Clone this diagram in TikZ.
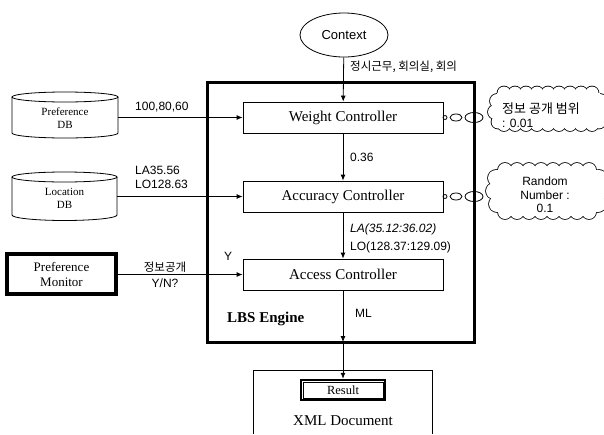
\documentclass[tikz,border=0pt]{standalone}
\usepackage{fontspec}
\setmainfont{Liberation Serif}
\setsansfont{Liberation Sans}
\newfontfamily\kr{Noto Sans CJK KR}
\usetikzlibrary{shapes.geometric,arrows.meta}
\begin{document}
\begin{tikzpicture}[x=1pt,y=-1pt,
  ctrl/.style={draw, line width=0.8pt, minimum width=200pt, minimum height=31pt, font=\fontsize{15}{15}\selectfont, inner sep=0pt},
  lbl/.style={font=\sffamily\fontsize{12}{14}\selectfont, inner sep=0pt},
  klbl/.style={font=\kr\fontsize{11.5}{14}\selectfont, inner sep=0pt},
  arr/.style={line width=0.8pt, -{Latex[length=6pt,width=5pt]}},
  plain/.style={line width=0.8pt},
  puffline/.style={line width=1.6pt},
  dbtext/.style={font=\fontsize{11}{13}\selectfont, align=center, inner sep=0pt},
  smallring/.style={draw, line width=0.8pt, ellipse, inner sep=0pt}
]
\useasboundingbox (0,0) rectangle (604,434);

% LBS engine box
\draw[line width=3pt] (207,82) rectangle (474,342);
\node[font=\bfseries\fontsize{15}{15}\selectfont, anchor=west, inner sep=0pt] (lbs) at (227,319) {LBS Engine};

% context
\node[draw, line width=0.8pt, ellipse, minimum width=88pt, minimum height=44pt, inner sep=0pt, font=\sffamily\fontsize{13}{13}\selectfont] (ctx) at (344,35) {Context};

% controllers
\node[ctrl] (wc) at (343,117.5) {Weight Controller};
\node[ctrl] (ac) at (343,196.5) {Accuracy Controller};
\node[ctrl] (xc) at (343,274.5) {Access Controller};

% vertical flow
\draw[arr] (ctx) -- (wc);
\node[klbl, anchor=west] (ctxl) at (350,67) {정시근무, 회의실, 회의};
\draw[arr] (wc) -- (ac);
\node[lbl, anchor=west] (l036) at (350,157) {0.36};
\draw[arr] (ac) -- (xc);
\node[lbl, anchor=west] (lla) at (350,229) {\itshape LA(35.12:36.02)};
\node[lbl, anchor=west] (llo) at (350,247) {LO(128.37:129.09)};
\coordinate (lbsb) at (343,342);
\draw[arr] (xc) -- (lbsb);
\node[lbl, anchor=west] (ml) at (355,313) {ML};

% XML document
\draw[plain] (253,434) -- (253,370) -- (432,370) -- (432,434);
\node[draw, line width=2.5pt, minimum width=84pt, minimum height=20pt, inner sep=0pt, font=\fontsize{12.5}{13}\selectfont] (res) at (343,390) {Result};
\draw[line width=0.6pt] ([shift={(3.2,3.2)}]res.north west) rectangle ([shift={(-3.2,-3.2)}]res.south east);
\node[font=\fontsize{15}{15}\selectfont, inner sep=0pt] (xml) at (343,421) {XML Document};
\draw[arr] (lbsb) -- (res);

% Preference DB cylinder
\node[dbtext, minimum width=106pt, minimum height=40pt] (pdb) at (65,118) {Preference\\DB};
\draw[plain] (12,97) -- (12,133) arc[start angle=180,end angle=0,x radius=53,y radius=5] -- (118,97);
\draw[plain] (65,97) ellipse [x radius=53,y radius=5];
\draw[arr] (pdb.east |- wc.west) -- (wc.west);
\node[lbl, anchor=west] (pl) at (135,107) {100,80,60};

% Location DB cylinder
\node[dbtext, minimum width=105pt, minimum height=40pt] (ldb) at (64.5,198) {Location\\DB};
\draw[plain] (12,177) -- (12,215) arc[start angle=180,end angle=0,x radius=52.5,y radius=5.5] -- (117,177);
\draw[plain] (64.5,177) ellipse [x radius=52.5,y radius=5];
\draw[arr] (ldb.east |- ac.west) -- (ac.west);
\node[lbl, anchor=west] (la) at (135,170) {LA35.56};
\node[lbl, anchor=west] (lo) at (135,184) {LO128.63};

% Preference monitor
\node[draw, line width=2.6pt, minimum width=110pt, minimum height=41pt, inner sep=0pt, align=center, font=\fontsize{13}{15}\selectfont] (pm) at (61.5,274) {Preference\\Monitor};
\draw[line width=0.6pt] ([shift={(3.4,3.4)}]pm.north west) rectangle ([shift={(-3.4,-3.4)}]pm.south east);
\draw[arr] (pm.east |- xc.west) -- (xc.west);
\node[klbl] (pml) at (165,267) {정보공개};
\node[lbl] (yn) at (165,283) {Y/N?};
\node[lbl] (yy) at (228,256) {Y};

% small rings
\node[smallring, minimum width=4pt, minimum height=4pt] (r1a) at (445,117.5) {};
\node[smallring, minimum width=12pt, minimum height=7pt] (r1b) at (456,117.5) {};
\node[smallring, minimum width=18pt, minimum height=10pt] (r1c) at (474,117.5) {};
\node[smallring, minimum width=4pt, minimum height=4pt] (r2a) at (445,196.5) {};
\node[smallring, minimum width=12pt, minimum height=7pt] (r2b) at (456,196.5) {};
\node[smallring, minimum width=18pt, minimum height=10pt] (r2c) at (474,196.5) {};

% cloud 1
\def\puffsA{504/93/6.5,515/93/6.5,526/93/6.5,537/93/6.5,548/93/6.5,559/93/6.5,570/93/6.5,581/93/6.5,592/93/6.5,504/124.5/6.5,515/124.5/6.5,526/124.5/6.5,537/124.5/6.5,548/124.5/6.5,559/124.5/6.5,570/124.5/6.5,581/124.5/6.5,592/124.5/6.5,497/101/7,495/112/7,498/122/6.5,600/101/7,602/112/7,599/122/6.5}
\foreach \px/\py/\pr in \puffsA \draw[puffline] (\px,\py) circle[radius=\pr];
\foreach \px/\py/\pr in \puffsA \fill[white] (\px,\py) circle[radius=\pr];
\fill[white] (497,93) rectangle (600,124.5);
% cloud 2
\def\puffsB{505/170/7,517/170/7,529/170/7,541/170/7,553/170/7,565/170/7,577/170/7,589/170/7,505/212/7,517/212/7,529/212/7,541/212/7,553/212/7,565/212/7,577/212/7,589/212/7,496/178/8,494/191/8,497/204/8,599/178/8,601/191/8,598/204/8}
\foreach \px/\py/\pr in \puffsB \draw[puffline] (\px,\py) circle[radius=\pr];
\foreach \px/\py/\pr in \puffsB \fill[white] (\px,\py) circle[radius=\pr];
\fill[white] (496,170) rectangle (599,212);

\node[klbl, anchor=west, align=left, font=\kr\fontsize{13}{14}\selectfont] (c1t) at (502,115) {정보 공개 범위\\{\sffamily\fontsize{12}{14}\selectfont : 0.01}};
\node[lbl, align=center, font=\sffamily\fontsize{12}{13.5}\selectfont] (c2t) at (545,195) {Random\\Number :\\0.1};
\end{tikzpicture}
\end{document}
